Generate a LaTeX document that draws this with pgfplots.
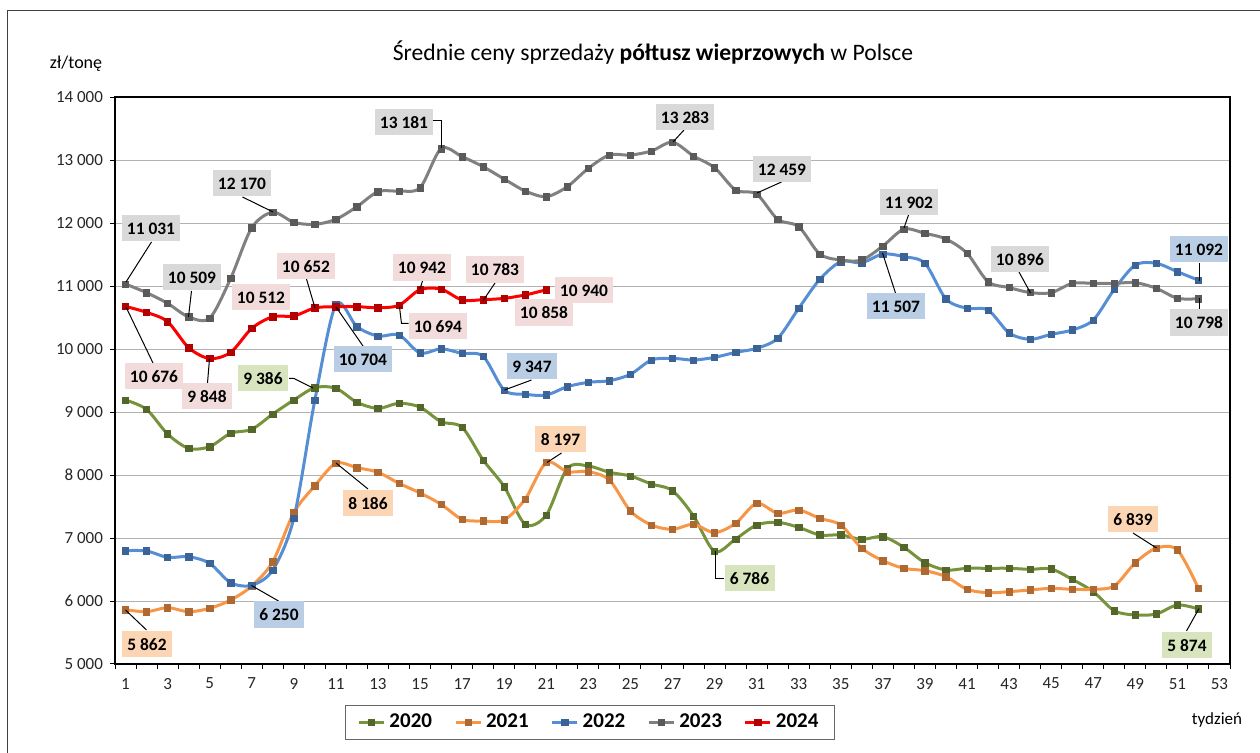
\documentclass[border=0pt]{standalone}
\usepackage{fontspec}
\setmainfont{Carlito}
\usepackage{pgfplots}
\pgfplotsset{compat=1.18}
\usepackage{pgfplotstable}

\definecolor{c20}{RGB}{119,147,60}
\definecolor{c21}{RGB}{247,150,70}
\definecolor{c22}{RGB}{85,142,213}
\definecolor{c23}{RGB}{128,128,128}
\definecolor{c24}{RGB}{255,0,0}
\definecolor{l20}{RGB}{215,228,189}
\definecolor{l21}{RGB}{252,213,180}
\definecolor{l22}{RGB}{185,205,229}
\definecolor{l23}{RGB}{217,217,217}
\definecolor{l24}{RGB}{242,220,219}

\pgfplotstableread{
w a b c d
1 9190 5862 6799 11031
2 9042 5830 6794 10894
3 8651 5894 6693 10725
4 8423 5830 6703 10509
5 8450 5884 6598 10490
6 8662 6016 6290 11122
7 8725 6238 6250 11925
8 8968 6624 6492 12170
9 9190 7402 7313 12011
10 9386 7830 9190 11979
11 9376 8186 10704 12059
12 9154 8116 10354 12259
13 9058 8043 10206 12497
14 9138 7868 10222 12508
15 9077 7715 9937 12560
16 8846 7535 10003 13181
17 8757 7297 9931 13053
18 8238 7270 9884 12894
19 7815 7286 9347 12698
20 7217 7619 9281 12508
21 7365 8197 9270 12418
22 8106 8053 9402 12577
23 8143 8053 9471 12868
24 8043 7921 9497 13079
25 7984 7429 9598 13079
26 7857 7206 9825 13143
27 7751 7138 9852 13283
28 7349 7217 9825 13063
29 6786 7085 9868 12878
30 6984 7233 9947 12524
31 7206 7550 10011 12459
32 7249 7392 10170 12059
33 7169 7444 10646 11942
34 7048 7312 11106 11508
35 7048 7206 11386 11413
36 6979 6836 11370 11413
37 7021 6640 11507 11635
38 6852 6519 11466 11902
39 6608 6481 11360 11836
40 6492 6386 10794 11746
41 6519 6186 10646 11519
42 6519 6132 10619 11068
43 6519 6148 10255 10975
44 6503 6175 10154 10896
45 6508 6201 10233 10894
46 6344 6186 10302 11042
47 6148 6186 10460 11042
48 5846 6238 10947 11042
49 5778 6608 11333 11053
50 5794 6839 11360 10963
51 5937 6810 11227 10805
52 5874 6201 11092 10798
}\dataA

\pgfplotstableread{
w e
1 10676
2 10582
3 10434
4 10021
5 9848
6 9947
7 10328
8 10512
9 10524
10 10652
11 10672
12 10672
13 10656
14 10694
15 10942
16 10950
17 10778
18 10783
19 10804
20 10858
21 10940
}\dataB

\begin{document}
\begin{tikzpicture}
\path[use as bounding box] (0,0) rectangle (630pt,-376.5pt);
\draw[black!75, line width=0.5pt] (3.5pt,-376.5pt) -- (3.5pt,-5.5pt) -- (630pt,-5.5pt);
\begin{axis}[
  at={(57.5pt,-332pt)}, anchor=south west,
  scale only axis, width=557.5pt, height=283.5pt,
  xmin=0.5, xmax=53.5, ymin=5000, ymax=14000,
  xtick={0.5,1.5,...,53.5}, xticklabels={},
  extra x ticks={1,3,...,53},
  extra x tick style={major tick length=0pt, grid=none, xticklabel style={yshift=-3.5pt}},
  ytick={5000,6000,...,14000},
  scaled y ticks=false,
  yticklabels={5 000,6 000,7 000,8 000,9 000,10 000,11 000,12 000,13 000,14 000},
  ymajorgrids, grid style={black!30, line width=0.5pt},
  tick align=outside, major tick length=2.5pt,
  xtick pos=left, ytick pos=left,
  axis line style={black, line width=0.8pt},
  tick style={black, line width=0.5pt},
  tick label style={font=\fontsize{8.5}{10}\selectfont, black!85},
  /pgf/number format/assume math mode=true,
  legend columns=5,
  legend style={at={(axis description cs:0.426,-0.103)}, anchor=center,
    draw=black!60, line width=0.5pt, font=\fontsize{10.5}{12}\selectfont\bfseries,
    inner xsep=6pt, inner ysep=2.5pt,
    /tikz/every even column/.append style={column sep=9pt}},
  legend image code/.code={\draw[mark repeat=2,mark phase=2,#1] plot coordinates {(0cm,0cm) (0.22cm,0cm) (0.44cm,0cm)};},
  every axis plot/.append style={line width=1.5pt, smooth, tension=0.5, mark=square*, mark size=1.6pt},
]
\addplot[c20, mark options={fill=c20!70!black, draw=c20!70!black, line width=0.3pt}] table[x=w,y=a]{\dataA};
\addlegendentry{2020}
\addplot[c21, mark options={fill=c21!70!black, draw=c21!70!black, line width=0.3pt}] table[x=w,y=b]{\dataA};
\addlegendentry{2021}
\addplot[c22, mark options={fill=c22!70!black, draw=c22!70!black, line width=0.3pt}] table[x=w,y=c]{\dataA};
\addlegendentry{2022}
\addplot[c23, mark options={fill=c23!70!black, draw=c23!70!black, line width=0.3pt}] table[x=w,y=d]{\dataA};
\addlegendentry{2023}
\addplot[c24, mark options={fill=c24!70!black, draw=c24!70!black, line width=0.3pt}] table[x=w,y=e]{\dataB};
\addlegendentry{2024}
\end{axis}

\begin{scope}[x=0.5pt,y=-0.5pt]
\tikzset{lbl/.style={font=\fontsize{8.7}{10}\selectfont\bfseries, inner xsep=2.7pt, inner ysep=3.5pt, text height=6.2pt, text depth=0pt},
  ld/.style={black, line width=0.5pt}}
\node[font=\fontsize{11.8}{13}\selectfont] at (653,53) {Średnie ceny sprzedaży \textbf{półtusz wieprzowych} w Polsce};
\node[font=\fontsize{9}{10}\selectfont] at (76,64) {zł/tonę};
\node[font=\fontsize{8.5}{10}\selectfont] at (1217,720) {tydzień};
% 2023
\draw[ld] (151.5,242)--(126,282);
\node[lbl, fill=l23] at (151,228) {11 031};
\draw[ld] (191.5,291)--(188.5,317);
\node[lbl, fill=l23] at (192,277) {10 509};
\draw[ld] (242.5,197)--(273,212);
\node[lbl, fill=l23] at (242,183) {12 170};
\draw[ld] (433,121)--(441.5,121)--(441.5,148);
\node[lbl, fill=l23] at (404,122) {13 181};
\draw[ld] (684,130)--(673,142);
\node[lbl, fill=l23] at (685,117) {13 283};
\draw[ld] (781.5,182)--(757,193);
\node[lbl, fill=l23] at (782,169) {12 459};
\draw[ld] (908.5,215)--(904,228);
\node[lbl, fill=l23] at (909,202) {11 902};
\draw[ld] (1019,272)--(1030.5,293);
\node[lbl, fill=l23] at (1020,259) {10 896};
\draw[ld] (1199,298)--(1199,309);
\node[lbl, fill=l23] at (1199,322.5) {10 798};
% 2024
\draw[ld] (126,307)--(153,363);
\node[lbl, fill=l24] at (154,376) {10 676};
\draw[ld] (207.5,383)--(209.5,359);
\node[lbl, fill=l24] at (207,396) {9 848};
\node[lbl, fill=l24] at (261,297) {10 512};
\draw[ld] (306.5,279)--(315,308);
\node[lbl, fill=l24] at (306,266) {10 652};
\draw[ld] (399.5,307)--(401.5,323.5)--(408.5,323.5);
\node[lbl, fill=l24] at (438,326) {10 694};
\draw[ld] (422.5,281)--(420,289);
\node[lbl, fill=l24] at (422,267.5) {10 942};
\draw[ld] (495,283)--(483.5,300);
\node[lbl, fill=l24] at (495,269.5) {10 783};
\node[lbl, fill=l24] at (544,312.5) {10 858};
\node[lbl, fill=l24] at (584,290) {10 940};
% 2022
\draw[ld] (278.5,601)--(251.5,585.5);
\node[lbl, fill=l22] at (279,614.5) {6 250};
\draw[ld] (363,346)--(336,307);
\node[lbl, fill=l22] at (363,359) {10 704};
\draw[ld] (531.5,380)--(504.5,390);
\node[lbl, fill=l22] at (532,366) {9 347};
\draw[ld] (895.5,293)--(882.5,253);
\node[lbl, fill=l22] at (896,306) {11 507};
\draw[ld] (1199,263)--(1199,281);
\node[lbl, fill=l22] at (1199,249) {11 092};
% 2020
\draw[ld] (289,378.5)--(294,378.5)--(313,388);
\node[lbl, fill=l20] at (263,378) {9 386};
\draw[ld] (715,551)--(715,579)--(724,579);
\node[lbl, fill=l20] at (749.5,578) {6 786};
\draw[ld] (1186.5,631)--(1199,608.5);
\node[lbl, fill=l20] at (1187,645) {5 874};
% 2021
\draw[ld] (146.5,630)--(125.5,610);
\node[lbl, fill=l21] at (147,644) {5 862};
\draw[ld] (368,489)--(336,463);
\node[lbl, fill=l21] at (368,503) {8 186};
\draw[ld] (561.5,453)--(547,462.5);
\node[lbl, fill=l21] at (560.5,439) {8 197};
\draw[ld] (1133,533)--(1156.5,548);
\node[lbl, fill=l21] at (1133,519) {6 839};
\end{scope}
\end{tikzpicture}
\end{document}
